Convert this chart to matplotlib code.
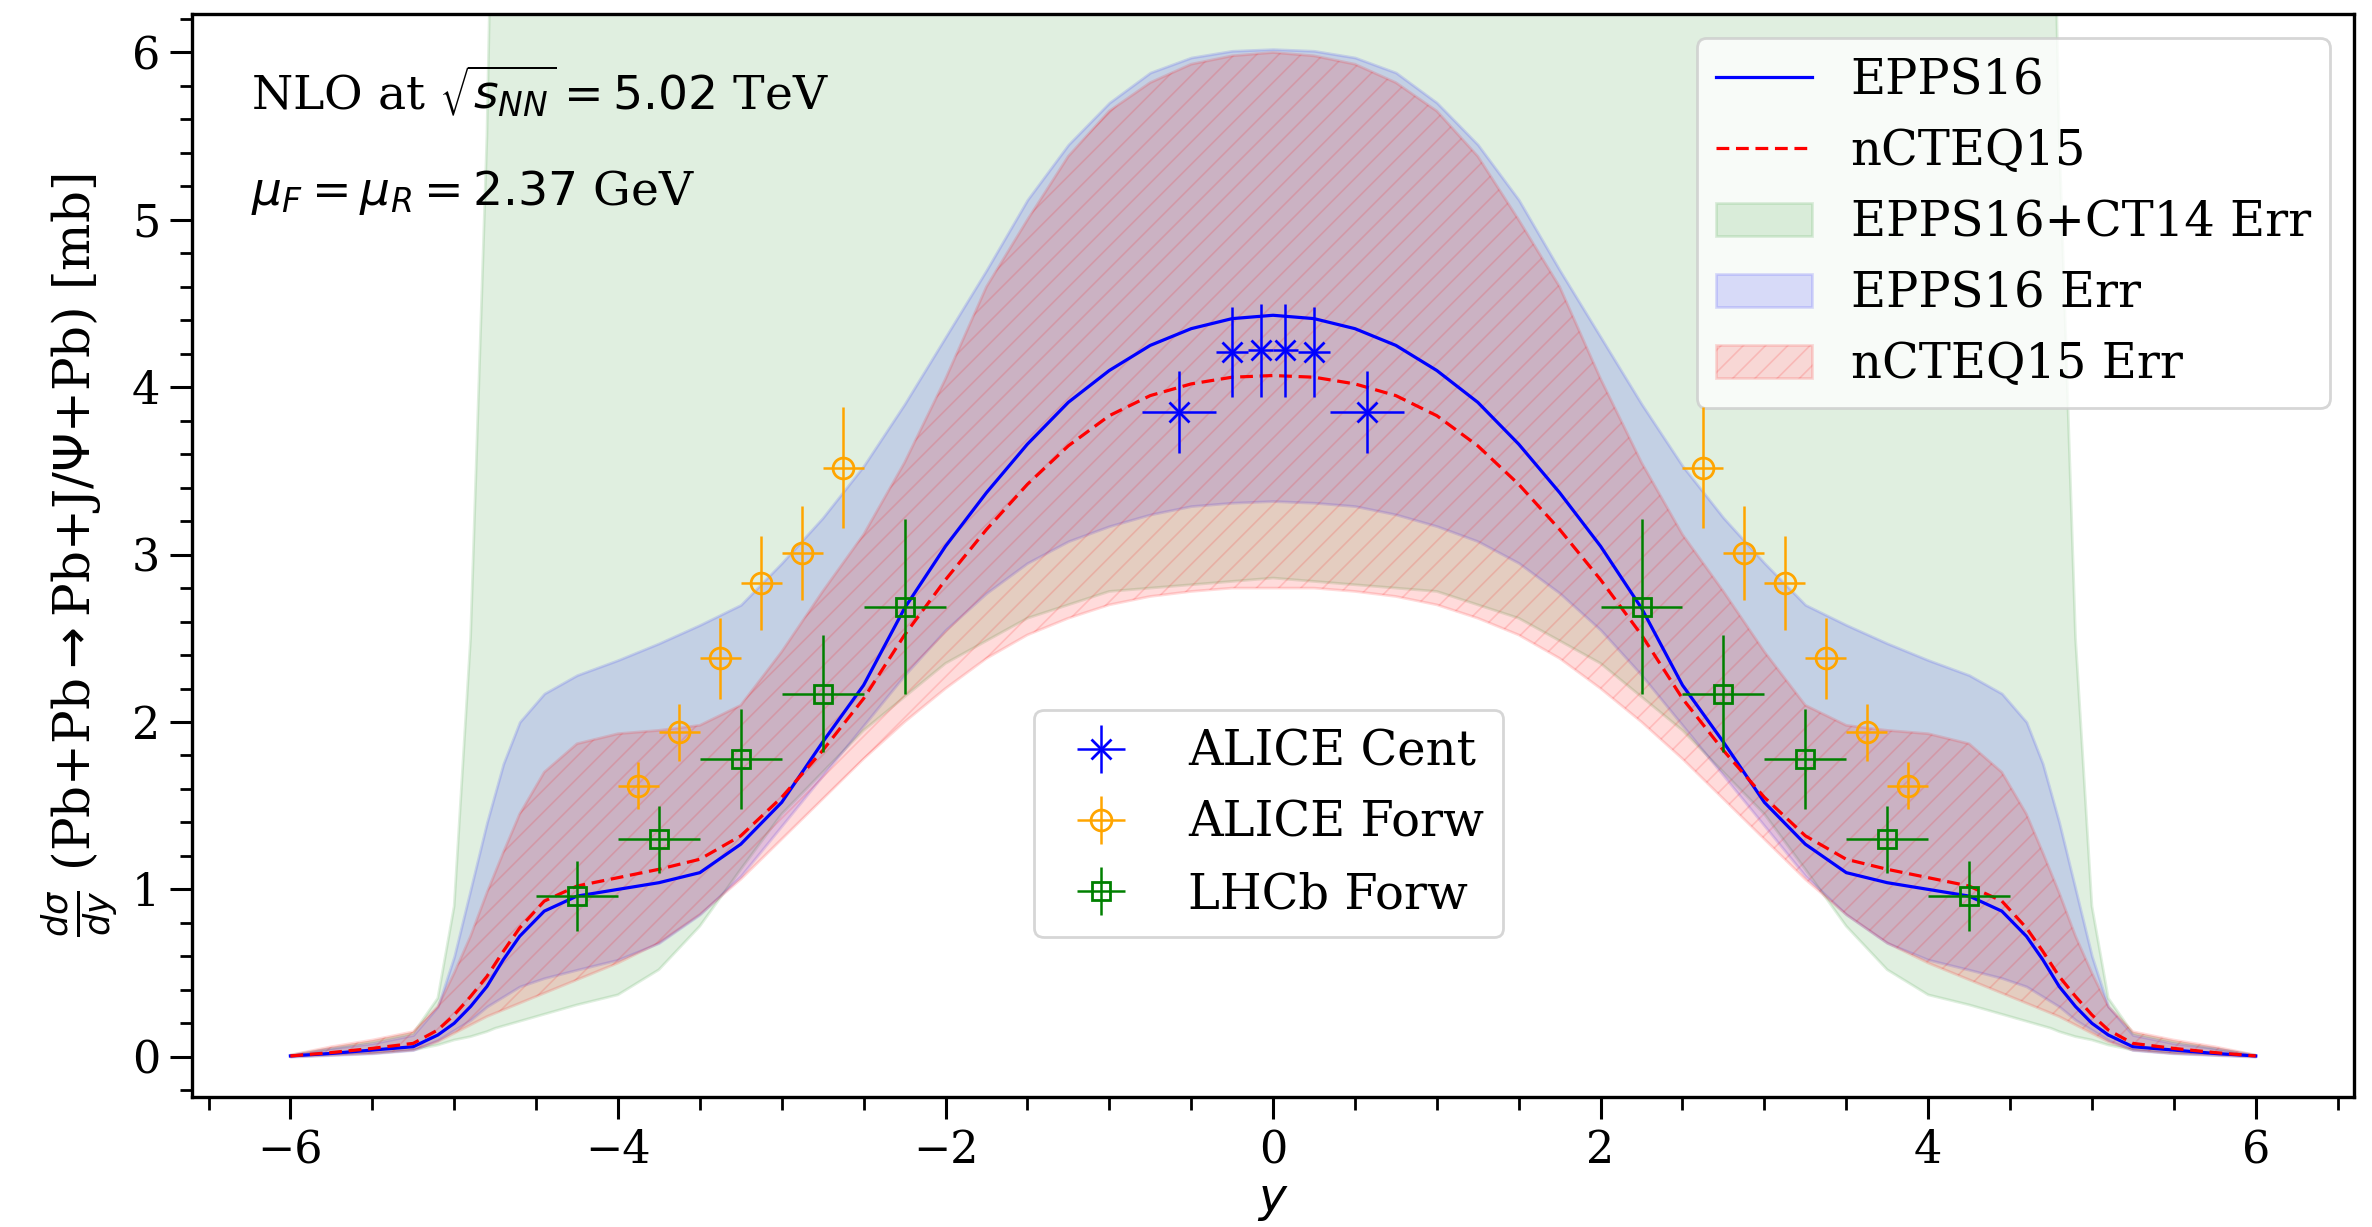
import numpy as np
import matplotlib
matplotlib.use("Agg")
import matplotlib.pyplot as plt
from matplotlib.ticker import MultipleLocator

plt.rcParams["font.family"] = "DejaVu Serif"
plt.rcParams["mathtext.fontset"] = "dejavusans"
plt.rcParams["hatch.linewidth"] = 0.6

# --- theory curves ---
y_grid = [-6.0, -5.75, -5.5, -5.25, -5.1, -5.0, -4.9, -4.8, -4.7, -4.6, -4.45, -4.25, -4.0, -3.75,
          -3.5, -3.25, -3.0, -2.75, -2.5, -2.25, -2.0, -1.75, -1.5, -1.25, -1.0, -0.75,
          -0.5, -0.25, 0.0, 0.25, 0.5, 0.75, 1.0, 1.25, 1.5, 1.75, 2.0, 2.25, 2.5, 2.75,
          3.0, 3.25, 3.5, 3.75, 4.0, 4.25, 4.45, 4.6, 4.7, 4.8, 4.9, 5.0, 5.1, 5.25, 5.5, 5.75, 6.0]

epps16 = [0.005, 0.02, 0.04, 0.06, 0.13, 0.2, 0.3, 0.42, 0.58, 0.72, 0.87, 0.96, 1.0, 1.04,
          1.1, 1.27, 1.52, 1.88, 2.22, 2.68, 3.05, 3.37, 3.66, 3.91, 4.1, 4.25,
          4.35, 4.41, 4.43, 4.41, 4.35, 4.25, 4.1, 3.91, 3.66, 3.37, 3.05, 2.68, 2.22, 1.88,
          1.52, 1.27, 1.1, 1.04, 1.0, 0.96, 0.87, 0.72, 0.58, 0.42, 0.3, 0.2, 0.13, 0.06, 0.04, 0.02, 0.005]

ncteq15 = [0.005, 0.025, 0.05, 0.08, 0.16, 0.25, 0.36, 0.48, 0.63, 0.77, 0.93, 1.02, 1.07, 1.12,
           1.18, 1.32, 1.55, 1.83, 2.14, 2.52, 2.85, 3.15, 3.42, 3.65, 3.83, 3.95,
           4.02, 4.06, 4.07, 4.06, 4.02, 3.95, 3.83, 3.65, 3.42, 3.15, 2.85, 2.52, 2.14, 1.83,
           1.55, 1.32, 1.18, 1.12, 1.07, 1.02, 0.93, 0.77, 0.63, 0.48, 0.36, 0.25, 0.16, 0.08, 0.05, 0.025, 0.005]

# EPPS16 error band
epps_hi = [0.01, 0.05, 0.08, 0.13, 0.3, 0.6, 1.0, 1.4, 1.75, 2.0, 2.17, 2.28, 2.37, 2.47,
           2.58, 2.7, 2.95, 3.22, 3.53, 3.9, 4.3, 4.7, 5.12, 5.45, 5.7, 5.88,
           5.97, 6.01, 6.02, 6.01, 5.97, 5.88, 5.7, 5.45, 5.12, 4.7, 4.3, 3.9, 3.53, 3.22,
           2.95, 2.7, 2.58, 2.47, 2.37, 2.28, 2.17, 2.0, 1.75, 1.4, 1.0, 0.6, 0.3, 0.13, 0.08, 0.05, 0.01]
epps_lo = [0.0, 0.01, 0.02, 0.04, 0.1, 0.16, 0.22, 0.3, 0.36, 0.42, 0.47, 0.52, 0.58, 0.68,
           0.85, 1.08, 1.38, 1.68, 1.98, 2.28, 2.55, 2.77, 2.95, 3.08, 3.17, 3.24,
           3.29, 3.31, 3.32, 3.31, 3.29, 3.24, 3.17, 3.08, 2.95, 2.77, 2.55, 2.28, 1.98, 1.68,
           1.38, 1.08, 0.85, 0.68, 0.58, 0.52, 0.47, 0.42, 0.36, 0.3, 0.22, 0.16, 0.1, 0.04, 0.02, 0.01, 0.0]

# nCTEQ15 error band
ncteq_hi = [0.01, 0.06, 0.1, 0.15, 0.3, 0.5, 0.72, 0.98, 1.22, 1.45, 1.7, 1.87, 1.93, 1.95,
            1.98, 2.1, 2.42, 2.78, 3.12, 3.55, 4.05, 4.6, 5.0, 5.38, 5.65, 5.82,
            5.93, 5.98, 6.0, 5.98, 5.93, 5.82, 5.65, 5.38, 5.0, 4.6, 4.05, 3.55, 3.12, 2.78,
            2.42, 2.1, 1.98, 1.95, 1.93, 1.87, 1.7, 1.45, 1.22, 0.98, 0.72, 0.5, 0.3, 0.15, 0.1, 0.06, 0.01]
ncteq_lo = [0.0, 0.01, 0.02, 0.04, 0.09, 0.14, 0.19, 0.24, 0.28, 0.32, 0.38, 0.46, 0.56, 0.68,
            0.85, 1.06, 1.3, 1.54, 1.78, 2.0, 2.2, 2.38, 2.52, 2.62, 2.7, 2.75,
            2.78, 2.8, 2.8, 2.8, 2.78, 2.75, 2.7, 2.62, 2.52, 2.38, 2.2, 2.0, 1.78, 1.54,
            1.3, 1.06, 0.85, 0.68, 0.56, 0.46, 0.38, 0.32, 0.28, 0.24, 0.19, 0.14, 0.09, 0.04, 0.02, 0.01, 0.0]

# EPPS16+CT14 error band (upper edge runs off the top of the axes)
ct14_x = [-6.0, -5.75, -5.5, -5.25, -5.1, -5.0, -4.9, -4.8, -4.75, -4.5, -4.25, -4.0, -3.75,
          -3.5, -3.25, -3.0, -2.5, -2.0, -1.5, -1.0, 0.0, 1.0, 1.5, 2.0, 2.5, 3.0, 3.25, 3.5,
          3.75, 4.0, 4.25, 4.5, 4.75, 4.8, 4.9, 5.0, 5.1, 5.25, 5.5, 5.75, 6.0]
ct14_hi = [0.01, 0.05, 0.09, 0.14, 0.35, 0.9, 2.5, 5.5, 8.0, 8.0, 8.0, 8.0, 8.0,
           8.0, 8.0, 8.0, 8.0, 8.0, 8.0, 8.0, 8.0, 8.0, 8.0, 8.0, 8.0, 8.0, 8.0, 8.0,
           8.0, 8.0, 8.0, 8.0, 8.0, 5.5, 2.5, 0.9, 0.35, 0.14, 0.09, 0.05, 0.01]
ct14_lo = [0.0, 0.01, 0.02, 0.04, 0.07, 0.1, 0.12, 0.15, 0.17, 0.24, 0.31, 0.37, 0.52,
           0.78, 1.12, 1.45, 1.95, 2.35, 2.62, 2.78, 2.86, 2.78, 2.62, 2.35, 1.95, 1.45, 1.12, 0.78,
           0.52, 0.37, 0.31, 0.24, 0.17, 0.15, 0.12, 0.1, 0.07, 0.04, 0.02, 0.01, 0.0]

# --- data points ---
cent_y = [-0.575, -0.25, -0.075, 0.075, 0.25, 0.575]
cent_xerr = [0.225, 0.1, 0.075, 0.075, 0.1, 0.225]
cent_val = [3.85, 4.21, 4.22, 4.22, 4.21, 3.85]
cent_err = [0.245, 0.27, 0.28, 0.28, 0.27, 0.245]

forw_y = [-3.875, -3.625, -3.375, -3.125, -2.875, -2.625,
          2.625, 2.875, 3.125, 3.375, 3.625, 3.875]
forw_val = [1.62, 1.94, 2.38, 2.83, 3.01, 3.52,
            3.52, 3.01, 2.83, 2.38, 1.94, 1.62]
forw_err = [0.14, 0.17, 0.24, 0.28, 0.28, 0.36,
            0.36, 0.28, 0.28, 0.24, 0.17, 0.14]

lhcb_y = [-4.25, -3.75, -3.25, -2.75, -2.25, 2.25, 2.75, 3.25, 3.75, 4.25]
lhcb_val = [0.96, 1.30, 1.78, 2.17, 2.69, 2.69, 2.17, 1.78, 1.30, 0.96]
lhcb_err = [0.21, 0.20, 0.30, 0.35, 0.52, 0.52, 0.35, 0.30, 0.20, 0.21]

fig, ax = plt.subplots(figsize=(11.86, 6.135), dpi=200)
fig.subplots_adjust(left=0.081, right=0.9924, bottom=0.106, top=0.9886)

l1, = ax.plot(y_grid, epps16, color="blue", lw=1.15, label="EPPS16", zorder=5)
l2, = ax.plot(y_grid, ncteq15, color="red", lw=1.15, ls=(0, (4.0, 2.1)),
              label="nCTEQ15", zorder=5)
b1 = ax.fill_between(ct14_x, ct14_lo, ct14_hi, color="green", alpha=0.12,
                     label="EPPS16+CT14 Err")
b2 = ax.fill_between(y_grid, epps_lo, epps_hi, color="blue", alpha=0.13,
                     label="EPPS16 Err")
b3 = ax.fill_between(y_grid, ncteq_lo, ncteq_hi, color="red", alpha=0.14,
                     hatch="///", label="nCTEQ15 Err")

e1 = ax.errorbar(cent_y, cent_val, xerr=cent_xerr, yerr=cent_err, fmt="x",
                 color="blue", ms=7.5, lw=0.9, label="ALICE Cent", zorder=6)
e2 = ax.errorbar(forw_y, forw_val, xerr=0.125, yerr=forw_err, fmt="o",
                 color="orange", mfc="none", ms=7.5, lw=0.9, label="ALICE Forw", zorder=6)
e3 = ax.errorbar(lhcb_y, lhcb_val, xerr=0.25, yerr=lhcb_err, fmt="s",
                 color="green", mfc="none", ms=6.5, lw=0.9, label="LHCb Forw", zorder=6)

ax.set_xlim(-6.6, 6.6)
ax.set_ylim(-0.24, 6.23)
ax.xaxis.set_major_locator(MultipleLocator(2))
ax.xaxis.set_minor_locator(MultipleLocator(0.5))
ax.yaxis.set_major_locator(MultipleLocator(1))
ax.yaxis.set_minor_locator(MultipleLocator(0.2))
ax.tick_params(which="major", length=8, width=1.1, labelsize=16)
ax.tick_params(which="minor", length=4.5, width=1.0)
for s in ax.spines.values():
    s.set_linewidth(1.2)

ax.set_xlabel("$y$", fontsize=17, labelpad=2)
ax.set_ylabel(r"$\frac{d\sigma}{dy}$ (Pb+Pb$\rightarrow$Pb+J/$\Psi$+Pb) [mb]", fontsize=18,
              labelpad=4)

ax.text(0.027, 0.928, r"NLO at $\sqrt{s_{NN}}=5.02$ TeV", transform=ax.transAxes,
        fontsize=17, va="center")
ax.text(0.027, 0.835, r"$\mu_F=\mu_R=2.37$ GeV", transform=ax.transAxes,
        fontsize=17, va="center")

leg1 = ax.legend(handles=[l1, l2, b1, b2, b3], loc="upper right", fontsize=17.3)
ax.add_artist(leg1)
ax.legend(handles=[e1, e2, e3], loc="center left", bbox_to_anchor=(0.3895, 0.2525),
          borderaxespad=0, fontsize=17.3)

fig.savefig("out.png", dpi=200)
